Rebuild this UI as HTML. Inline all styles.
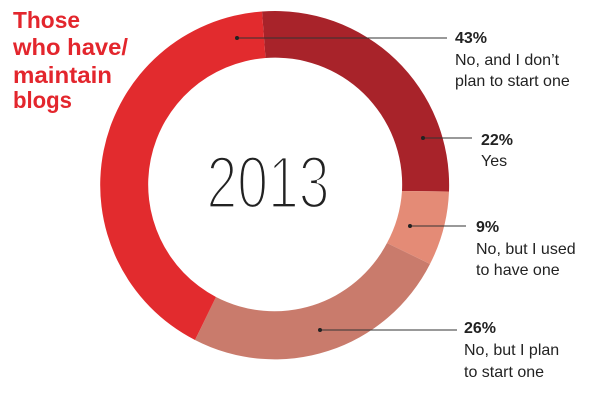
<!DOCTYPE html>
<html><head><meta charset="utf-8"><style>body{margin:0;background:#fff}svg{display:block}</style></head><body>
<svg width="600" height="400" viewBox="0 0 600 400" xmlns="http://www.w3.org/2000/svg" font-family="Liberation Sans, sans-serif">
<path d="M262,11.5 A174,174 0 0 1 449,191.5 L402,191 A127,127 0 0 0 265.5,58 Z" fill="#a8232a"/>
<path d="M449,191.5 A174,174 0 0 1 430,264 L387,243 A127,127 0 0 0 402,191 Z" fill="#e48b76"/>
<path d="M430,264 A174,174 0 0 1 195,340 L216,297 A127,127 0 0 0 387,243 Z" fill="#c97b6c"/>
<path d="M195,340 A174,174 0 0 1 262,11.5 L265.5,58 A127,127 0 0 0 216,297 Z" fill="#e22b2e"/>
<text x="268" y="208" font-size="74" text-anchor="middle" textLength="123" lengthAdjust="spacingAndGlyphs" fill="#222" stroke="#fff" stroke-width="3.2">2013</text>
<g font-weight="bold" font-size="23" fill="#e3262d">
<text x="13" y="28" textLength="67" lengthAdjust="spacingAndGlyphs">Those</text>
<text x="13" y="55" textLength="115" lengthAdjust="spacingAndGlyphs">who have/</text>
<text x="13" y="83" textLength="99" lengthAdjust="spacingAndGlyphs">maintain</text>
<text x="13" y="108" textLength="59" lengthAdjust="spacingAndGlyphs">blogs</text>
</g>
<g stroke="#333" stroke-width="1">
<line x1="237" y1="38" x2="447" y2="38"/>
<line x1="423" y1="138" x2="472" y2="138"/>
<line x1="410" y1="226" x2="466" y2="226"/>
<line x1="320" y1="330" x2="457" y2="330"/>
</g>
<g fill="#222"><circle cx="237" cy="38" r="2"/><circle cx="423" cy="138" r="2"/><circle cx="410" cy="226" r="2"/><circle cx="320" cy="330" r="2"/></g>
<g font-size="16" fill="#222">
<text x="455" y="43" font-weight="bold">43%</text>
<text x="455" y="65">No, and I don’t</text>
<text x="455" y="86">plan to start one</text>
<text x="481" y="145" font-weight="bold">22%</text>
<text x="481" y="166">Yes</text>
<text x="476" y="232" font-weight="bold">9%</text>
<text x="476" y="254">No, but I used</text>
<text x="476" y="275">to have one</text>
<text x="464" y="333" font-weight="bold">26%</text>
<text x="464" y="355">No, but I plan</text>
<text x="464" y="377">to start one</text>
</g>
</svg>
</body></html>
